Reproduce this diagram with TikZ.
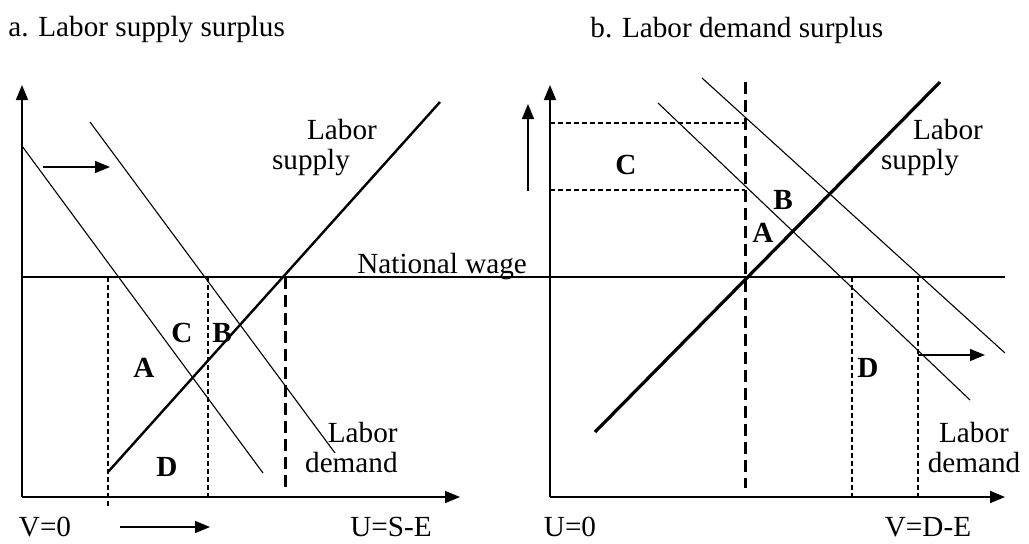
\documentclass[tikz,border=0pt]{standalone}
\usepackage{fontspec}
\setmainfont{Liberation Serif}
\usetikzlibrary{positioning, arrows.meta, calc}

\begin{document}
\begin{tikzpicture}[x=0.5pt, y=-0.5pt,
  axis/.style={line width=0.8pt, -{Triangle[length=7.5pt,width=6pt]}},
  demand/.style={line width=0.55pt},
  supply/.style={line width=1.2pt},
  guide/.style={line width=0.6pt, dash pattern=on 2.6pt off 1.4pt},
  bigguide/.style={line width=1.5pt, dash pattern=on 6pt off 3pt},
  movearrow/.style={line width=0.7pt, -{Triangle[length=7.5pt,width=6pt]}},
  lbl/.style={font=\fontsize{14.6}{15}\selectfont, inner sep=0pt},
  area/.style={font=\bfseries\fontsize{14.6}{15}\selectfont, inner sep=0pt}]
\useasboundingbox (0,0) rectangle (1029,543);

\node[lbl, anchor=west] (titleA) at (8,30) {a. Labor supply surplus};
\node[lbl, anchor=west] (titleB) at (590,30) {b. Labor demand surplus};

\coordinate (oA) at (22,497);
\coordinate (yA) at (22,85);
\coordinate (xA) at (460,497);
\coordinate (oB) at (550,497);
\coordinate (yB) at (550,85);
\coordinate (xB) at (1005,497);
\draw[axis] (oA) -- (yA);
\draw[axis] (oA) -- (xA);
\draw[axis] (oB) -- (yB);
\draw[axis] (oB) -- (xB);

\coordinate (wageL) at (22,277);
\coordinate (wageR) at (1005,277);
\draw[line width=1.1pt] (wageL) -- (wageR);
\node[lbl, anchor=base west] (wage) at (357,273) {National wage};

\coordinate (sA1) at (108,472);
\coordinate (sA2) at (440,102);
\draw[supply] (sA1) -- (sA2);
\coordinate (dA1) at (22,146);
\coordinate (dA2) at (263,473);
\draw[demand] (dA1) -- (dA2);
\coordinate (dA3) at (90,122);
\coordinate (dA4) at (335,453);
\draw[demand] (dA3) -- (dA4);

\draw[guide] (108,277) coordinate (gA1) -- (108,507) coordinate (gA2);
\draw[guide] (208,277) coordinate (gA3) -- (208,500) coordinate (gA4);
\draw[bigguide] (285,277) coordinate (gA5) -- (285,488) coordinate (gA6);

\draw[movearrow] (43,167) coordinate (mA1) -- (110,167) coordinate (mA2);
\draw[movearrow] (120,527) coordinate (mA3) -- (210,527) coordinate (mA4);

\node[lbl] (supA1) at (342,130) {Labor};
\node[lbl] (supA2) at (311,163) {supply};
\node[lbl, align=right, anchor=east] (demA) at (398,448) {Labor\\demand};
\node[lbl] (vA) at (45,527) {V=0};
\node[lbl] (uA) at (391,527) {U=S-E};

\node[area] (cA) at (182,333) {C};
\node[area] (bA) at (222,333) {B};
\node[area] (aA) at (144,368) {A};
\node[area] (dA) at (167,467) {D};

\coordinate (sB1) at (595,432);
\coordinate (sB2) at (940,82);
\draw[supply, line width=1.6pt] (sB1) -- (sB2);
\coordinate (dB1) at (658,103);
\coordinate (dB2) at (970,400);
\draw[demand] (dB1) -- (dB2);
\coordinate (dB3) at (702,78);
\coordinate (dB4) at (1005,353);
\draw[demand] (dB3) -- (dB4);

\draw[bigguide] (745,82) coordinate (gB1) -- (745,488) coordinate (gB2);
\draw[guide] (550,123) coordinate (hB1) -- (745,123) coordinate (hB2);
\draw[guide] (550,190) coordinate (hB3) -- (745,190) coordinate (hB4);
\draw[guide] (852,277) coordinate (gB3) -- (852,497) coordinate (gB4);
\draw[guide] (918,277) coordinate (gB5) -- (918,497) coordinate (gB6);

\draw[movearrow] (918,355) coordinate (mB1) -- (985,355) coordinate (mB2);
\draw[movearrow] (528,191) coordinate (mB3) -- (528,104) coordinate (mB4);

\node[lbl] (supB1) at (948,130) {Labor};
\node[lbl] (supB2) at (920,163) {supply};
\node[lbl, align=center] (demB) at (974,448) {Labor\\demand};
\node[lbl] (uB) at (570,527) {U=0};
\node[lbl] (vB) at (928,527) {V=D-E};

\node[area] (cB) at (626,165) {C};
\node[area] (bB) at (783,200) {B};
\node[area] (aB) at (763,233) {A};
\node[area] (dB) at (868,368) {D};
\end{tikzpicture}
\end{document}
